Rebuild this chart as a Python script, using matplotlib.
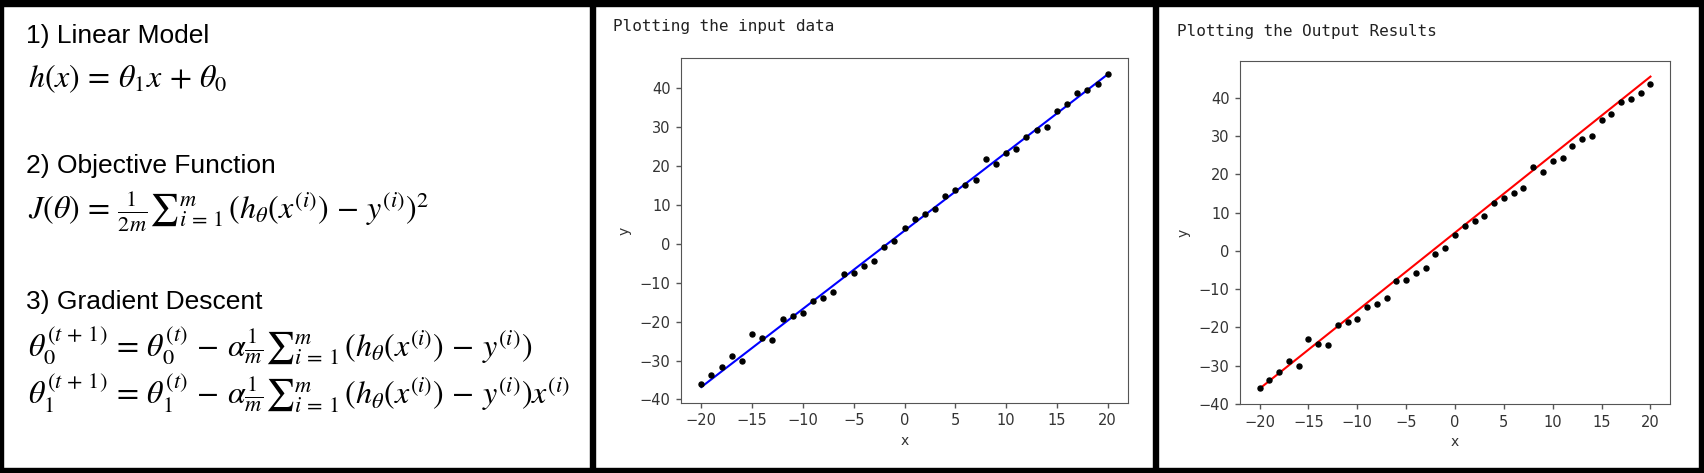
import matplotlib

matplotlib.use("Agg")
import matplotlib.pyplot as plt
from matplotlib.patches import Rectangle

# data
x_vals = [-20, -19, -18, -17, -16, -15, -14, -13, -12, -11, -10, -9, -8, -7, -6,
          -5, -4, -3, -2, -1, 0, 1, 2, 3, 4, 5, 6, 7, 8, 9, 10, 11, 12, 13, 14,
          15, 16, 17, 18, 19, 20]
y_vals = [-35.9, -33.7, -31.7, -28.8, -30.1, -23.1, -24.3, -24.7, -19.3, -18.6,
          -17.8, -14.8, -14.0, -12.4, -7.8, -7.5, -5.8, -4.5, -0.9, 0.8, 4.1,
          6.5, 7.8, 9.0, 12.4, 13.9, 15.2, 16.5, 21.9, 20.6, 23.4, 24.3, 27.5,
          29.2, 30.1, 34.2, 35.9, 38.8, 39.6, 41.2, 43.7]

# fitted lines: (theta0, theta1)
input_fit = (3.4, 2.01)
output_fit = (4.75, 2.04)

x_ticks = [-20, -15, -10, -5, 0, 5, 10, 15, 20]
y_ticks = [-40, -30, -20, -10, 0, 10, 20, 30, 40]

titles = ["Plotting the input data", "Plotting the Output Results"]

headers = ["1) Linear Model", "2) Objective Function", "3) Gradient Descent"]
formulas = [
    r"$h(x)\,=\,\theta_1 x\,+\,\theta_0$",
    r"$J(\theta)\,=\,\frac{1}{2m}{\sum}_{i\,=\,1}^{m}\,(h_\theta(x^{(i)})\,-\,y^{(i)})^2$",
    r"$\theta_0^{(t\,+\,1)}\,=\,\theta_0^{(t)}\,-\,\alpha\frac{1}{m}{\sum}_{i\,=\,1}^{m}\,"
    r"(h_\theta(x^{(i)})\,-\,y^{(i)})$",
    r"$\theta_1^{(t\,+\,1)}\,=\,\theta_1^{(t)}\,-\,\alpha\frac{1}{m}{\sum}_{i\,=\,1}^{m}\,"
    r"(h_\theta(x^{(i)})\,-\,y^{(i)})x^{(i)}$",
]

W, H = 1704, 473
plt.rcParams["mathtext.fontset"] = "stix"
fig = plt.figure(figsize=(W / 100, H / 100), dpi=100)


def fx(px):
    return px / W


def fy(py):
    return (H - py) / H


# left panel text
fig.text(fx(26), fy(43), headers[0], fontsize=19, family="Liberation Sans", va="baseline")
fig.text(fx(28), fy(87), formulas[0], fontsize=23, va="baseline")
fig.text(fx(26), fy(173), headers[1], fontsize=19, family="Liberation Sans", va="baseline")
fig.text(fx(28), fy(219), formulas[1], fontsize=23, va="baseline")
fig.text(fx(26), fy(309), headers[2], fontsize=19, family="Liberation Sans", va="baseline")
fig.text(fx(28), fy(357), formulas[2], fontsize=23, va="baseline")
fig.text(fx(28), fy(404), formulas[3], fontsize=23, va="baseline")


def scatter_panel(rect, fit, color, title, title_xy):
    ax = fig.add_axes(rect)
    ax.scatter(x_vals, y_vals, s=13, color="black", zorder=3)
    line_y = [fit[0] + fit[1] * v for v in x_vals]
    ax.plot(x_vals, line_y, color=color, linewidth=1.5, zorder=2)
    ax.set_xticks(x_ticks)
    ax.set_yticks(y_ticks)
    ax.tick_params(labelsize=10.5, length=3.5, width=1, colors="#555555",
                   labelcolor="#333333", pad=4)
    for sp in ax.spines.values():
        sp.set_color("#555555")
    ax.set_xlabel("x", fontsize=10, color="#333333")
    ax.set_ylabel("y", fontsize=10, color="#333333", labelpad=6)
    fig.text(fx(title_xy[0]), fy(title_xy[1]), title, fontsize=11.5,
             family="DejaVu Sans Mono", color="#222222", va="baseline")
    return ax


scatter_panel([fx(681), fy(402.7), fx(1128 - 681), (402.7 - 58.3) / H],
              input_fit, "#0000ff", titles[0], (613, 31))
scatter_panel([fx(1240), fy(404.3), fx(1670 - 1240), (404.3 - 61) / H],
              output_fit, "#ff0000", titles[1], (1177, 36))

# black frame and dividers
for x0, y0, w, h in [(0, 0, W, 5), (0, H - 6, W, 6), (0, 0, 3, H),
                     (W - 5, 0, 5, H), (590, 0, 5, H), (1153, 0, 5, H)]:
    fig.add_artist(Rectangle((x0 / W, y0 / H), w / W, h / H, color="black",
                             transform=fig.transFigure, zorder=10))

fig.savefig("out.png", dpi=100)
